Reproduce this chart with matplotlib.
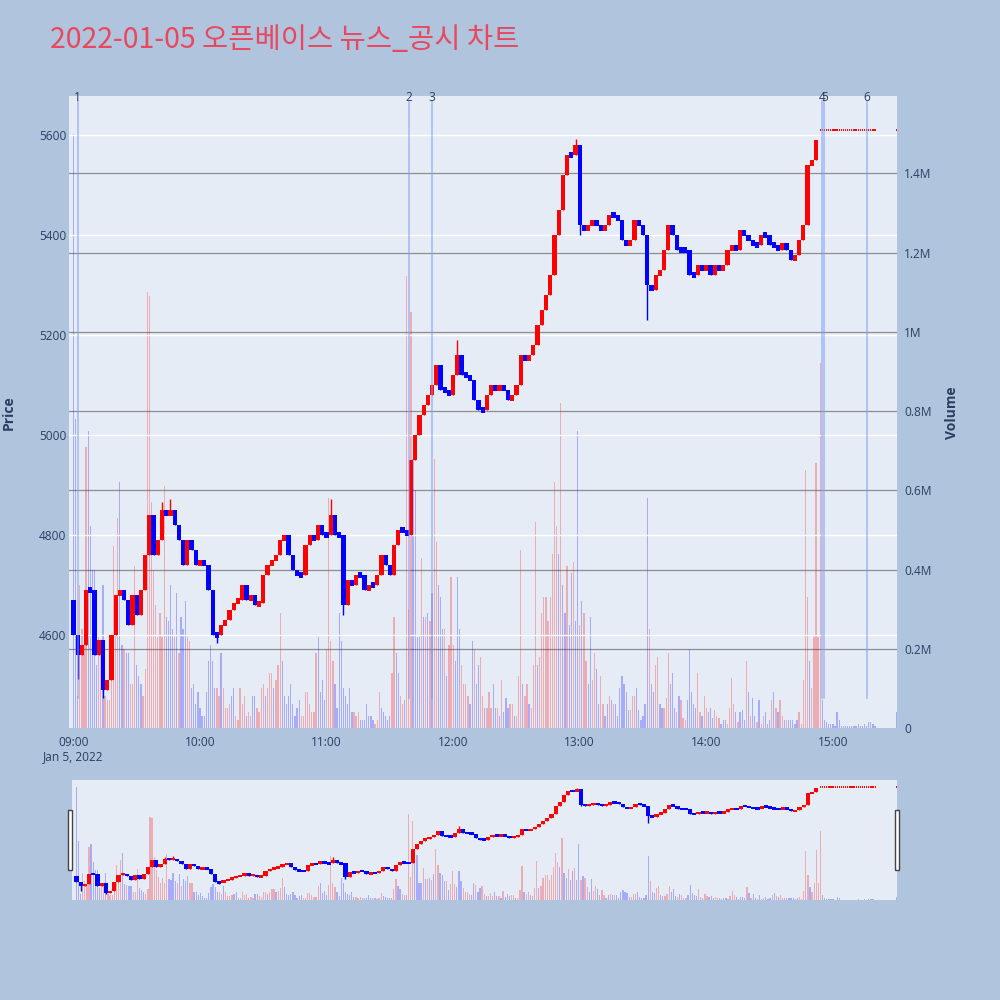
"""Intraday candle + volume chart with news markers and a range slider."""
import matplotlib
matplotlib.use("Agg")
import matplotlib.pyplot as plt
from matplotlib.patches import Rectangle

TITLE = "2022-01-05 오픈베이스 뉴스_공시 차트"

# 2-minute candles, minutes after 09:00
price_open0 = 4670
price_close = [
    4600, 4560, 4580, 4690, 4690, 4560, 4590, 4490, 4510, 4600,
    4680, 4690, 4670, 4620, 4680, 4640, 4690, 4760, 4840, 4760,
    4790, 4850, 4840, 4850, 4820, 4790, 4740, 4790, 4770, 4740,
    4750, 4740, 4690, 4600, 4600, 4620, 4630, 4650, 4665, 4670,
    4700, 4670, 4680, 4660, 4665, 4720, 4740, 4750, 4760, 4790,
    4800, 4760, 4730, 4720, 4720, 4780, 4800, 4790, 4820, 4800,
    4800, 4840, 4800, 4800, 4660, 4710, 4700, 4720, 4720, 4690,
    4700, 4700, 4720, 4760, 4740, 4720, 4780, 4810, 4810, 4800,
    4950, 5000, 5040, 5060, 5080, 5100, 5140, 5090, 5090, 5080,
    5120, 5160, 5120, 5120, 5110, 5070, 5050, 5050, 5080, 5100,
    5090, 5100, 5090, 5070, 5080, 5100, 5160, 5150, 5160, 5180,
    5220, 5250, 5280, 5320, 5400, 5450, 5520, 5560, 5560, 5580,
    5420, 5410, 5420, 5430, 5420, 5410, 5420, 5440, 5440, 5430,
    5390, 5380, 5390, 5430, 5420, 5400, 5300, 5290, 5320, 5330,
    5370, 5420, 5400, 5370, 5370, 5370, 5320, 5320, 5340, 5330,
    5340, 5320, 5340, 5330, 5340, 5370, 5380, 5370, 5410, 5400,
    5390, 5380, 5380, 5400, 5400, 5380, 5380, 5370, 5385, 5370,
    5350, 5360, 5390, 5420, 5540, 5550, 5590,
]
price_t = list(range(0, 2 * len(price_close), 2))
wick_high = {42: 4866, 46: 4873, 122: 4872, 182: 5190, 238: 5592}
wick_low = {2: 4512, 14: 4474, 68: 4585, 128: 4640, 240: 5400, 272: 5230}

# prints with no range after the last move
flat_t = list(range(354, 381)) + [390]
flat_price = 5610

# volume per minute (millions), R = up bar, B = down bar
vol_m = [
    1.50, 0.78, 0.08, 0.36, 0.25, 0.21, 0.71, 0.75, 0.51, 0.40,
    0.40, 0.16, 0.23, 0.21, 0.36, 0.08, 0.07, 0.07, 0.23, 0.46,
    0.30, 0.53, 0.62, 0.21, 0.20, 0.19, 0.19, 0.11, 0.11, 0.41,
    0.16, 0.13, 0.11, 0.08, 0.15, 1.10, 1.09, 0.57, 0.40, 0.31,
    0.23, 0.29, 0.23, 0.61, 0.28, 0.27, 0.36, 0.25, 0.23, 0.34,
    0.19, 0.28, 0.25, 0.32, 0.23, 0.22, 0.10, 0.11, 0.06, 0.09,
    0.05, 0.03, 0.03, 0.09, 0.17, 0.21, 0.17, 0.10, 0.10, 0.08,
    0.19, 0.10, 0.05, 0.05, 0.06, 0.08, 0.10, 0.03, 0.02, 0.10,
    0.06, 0.08, 0.03, 0.04, 0.03, 0.08, 0.08, 0.05, 0.04, 0.10,
    0.11, 0.08, 0.10, 0.14, 0.14, 0.10, 0.12, 0.16, 0.29, 0.17,
    0.08, 0.06, 0.08, 0.11, 0.06, 0.03, 0.05, 0.07, 0.03, 0.03,
    0.09, 0.09, 0.06, 0.04, 0.04, 0.19, 0.23, 0.09, 0.12, 0.07,
    0.20, 0.58, 0.22, 0.17, 0.11, 0.05, 0.29, 0.22, 0.10, 0.08,
    0.06, 0.10, 0.04, 0.04, 0.03, 0.04, 0.02, 0.02, 0.02, 0.06,
    0.03, 0.03, 0.02, 0.01, 0.02, 0.09, 0.05, 0.04, 0.03, 0.02,
    0.03, 0.14, 0.28, 0.19, 0.14, 0.08, 0.06, 0.07, 1.14, 0.30,
    1.05, 0.68, 0.60, 0.23, 0.23, 0.43, 0.28, 0.28, 0.29, 0.27,
    0.34, 0.68, 0.47, 0.36, 0.33, 0.25, 0.25, 0.13, 0.21, 0.38,
    0.21, 0.17, 0.38, 0.25, 0.16, 0.11, 0.11, 0.08, 0.06, 0.22,
    0.20, 0.11, 0.16, 0.18, 0.08, 0.05, 0.05, 0.09, 0.05, 0.11,
    0.05, 0.05, 0.03, 0.12, 0.04, 0.075, 0.05, 0.06, 0.06, 0.03,
    0.03, 0.13, 0.45, 0.11, 0.08, 0.11, 0.06, 0.05, 0.16, 0.52,
    0.16, 0.18, 0.29, 0.33, 0.33, 0.27, 0.33, 0.44, 0.62, 0.51,
    0.44, 0.82, 0.36, 0.29, 0.41, 0.26, 0.39, 0.42, 0.27, 0.75,
    0.26, 0.32, 0.29, 0.17, 0.11, 0.28, 0.12, 0.19, 0.15, 0.06,
    0.13, 0.06, 0.03, 0.06, 0.08, 0.07, 0.06, 0.06, 0.03, 0.10,
    0.13, 0.11, 0.09, 0.045, 0.045, 0.08, 0.08, 0.10, 0.045, 0.02,
    0.03, 0.06, 0.58, 0.25, 0.11, 0.09, 0.16, 0.18, 0.06, 0.05,
    0.05, 0.075, 0.19, 0.11, 0.14, 0.05, 0.04, 0.08, 0.07, 0.025,
    0.02, 0.07, 0.20, 0.09, 0.06, 0.05, 0.14, 0.04, 0.03, 0.08,
    0.05, 0.04, 0.05, 0.025, 0.045, 0.03, 0.025, 0.01, 0.02, 0.02,
    0.01, 0.05, 0.125, 0.06, 0.04, 0.015, 0.04, 0.045, 0.02, 0.17,
    0.09, 0.03, 0.075, 0.03, 0.015, 0.07, 0.01, 0.03, 0.04, 0.01,
    0.02, 0.07, 0.09, 0.05, 0.04, 0.07, 0.03, 0.02, 0.02, 0.02,
    0.02, 0.02, 0.01, 0.02, 0.04, 0.01, 0.12, 0.65, 0.33, 0.17,
    0.10, 0.23, 0.67, 0.23, 0.92, 0.07, 0.02, 0.015, 0.01, 0.01,
    0.01, 0.005, 0.04, 0.02, 0.005, 0.005, 0.005, 0.005, 0.005, 0.005,
    0.005, 0.005, 0.01, 0.005, 0.005, 0.01, 0.005, 0.015, 0.015, 0.01,
    0.005, 0, 0, 0, 0, 0, 0, 0, 0, 0,
    0.04,
]
vol_dir = (
    "BBBRRRRBBB" "BBRRBRRRRR" "RRBBRBBRRR" "BBBRRRRRRR" "RRRRBBBBRB"
    "RBBBRRBBBB" "BBBBBBBBRR" "BRRRRBBRRR" "RRBRRBBRRR" "RBRRRBRRRB"
    "BBBBBBBBRR" "RRRRRRBBBB" "RRRRBBBBBB" "BBBRRRBBBB" "BBBRRRBBBB"
    "BRRBBRRBRR" "RBBBBRBRBR" "BRRBBBRBRR" "RBBBRRRRBB" "RBBRRBRRRB"
    "BRBRBBBRRB" "RRRBRRBRRR" "BRRRRRRRRR" "BRBBRBBRBB" "RBRRBBRRBB"
    "RRBBRBRBBB" "BBBBRRRBBB" "BBBRBBRRBB" "RRRBBBRBRR" "RBBBBBRRBR"
    "RBBBRRRBBB" "RRRRBRBBBR" "BRBBRBRRBB" "BRBRBRRBRB" "BBBBRRRRRB"
    "RRRRRBBBBB" "BBBBBBBBBB" "BBBBBBBBBB" "BBBBBBBBBB" "B"
)
vol_t = list(range(len(vol_m)))

news_t = [2, 159, 170, 355, 356, 376]
news_lbl = ["1", "2", "3", "4", "5", "6"]

hour_ticks = [0, 60, 120, 180, 240, 300, 360]
hour_lbls = ["09:00", "10:00", "11:00", "12:00", "13:00", "14:00", "15:00"]
price_ticks = [4600, 4800, 5000, 5200, 5400, 5600]
vol_ticks = [0, 0.2, 0.4, 0.6, 0.8, 1.0, 1.2, 1.4]
vol_lbls = ["0", "0.2M", "0.4M", "0.6M", "0.8M", "1M", "1.2M", "1.4M"]

BG, PLOT_BG, TXT = "#b0c4de", "#e5ecf6", "#2a3f5f"
RED, BLUE = "#ff0000", "#0000ff"
XLIM, PLIM, VLIM = (-2.1, 390.4), (4414, 5679), (0, 1.595)

plt.rcParams["font.family"] = ["Open Sans", "DejaVu Sans"]


def draw(ap, av, body_w=2.0, min_h=12):
    opens = [price_open0] + price_close[:-1]
    for t, o, c in zip(price_t, opens, price_close):
        col = RED if c > o else BLUE
        hi = max(wick_high.get(t, c), o, c)
        lo = min(wick_low.get(t, c), o, c)
        ap.vlines(t, lo, hi, color=col, lw=1, zorder=3)
        h = max(abs(c - o), min_h)
        ap.bar(t, h, bottom=min(o, c) - (h - abs(c - o)) / 2, width=body_w,
               color=col, linewidth=0, zorder=3)
    ap.hlines([flat_price] * len(flat_t), [t - 0.3 for t in flat_t],
              [t + 0.3 for t in flat_t], color=RED, lw=1.4, zorder=3)
    cols = [RED if d == "R" else BLUE for d in vol_dir]
    av.bar(vol_t, vol_m, width=0.6, color=cols, alpha=0.27, linewidth=0, zorder=2)
    ap.set_xlim(*XLIM); ap.set_ylim(*PLIM); av.set_ylim(*VLIM)


def make_pair(rect):
    av = fig.add_axes(rect)
    ap = fig.add_axes(rect, sharex=av)
    av.set_facecolor(PLOT_BG)
    ap.patch.set_visible(False)
    for a in (av, ap):
        for s in a.spines.values():
            s.set_visible(False)
    return ap, av


fig = plt.figure(figsize=(10, 10), dpi=100)
fig.patch.set_facecolor(BG)

# main panel
ap, av = make_pair([0.069, 0.272, 0.828, 0.632])
draw(ap, av)
for v in vol_ticks[1:]:
    av.axhline(v, color="#8e8e8e", lw=0.9, zorder=1)
ap.set_yticks(price_ticks)
ap.grid(axis="y", color="white", lw=1, zorder=0)
ap.set_axisbelow(True)
av.yaxis.tick_right()
av.set_yticks(vol_ticks, vol_lbls)
ap.set_xticks(hour_ticks, hour_lbls)
av.tick_params(axis="x", bottom=False, labelbottom=False)
ap.tick_params(axis="x", length=0, pad=6, labelsize=8.6, labelcolor=TXT)
ap.tick_params(axis="y", length=0, pad=2, labelsize=8.6, labelcolor=TXT)
av.tick_params(axis="y", length=0, pad=5, labelsize=8.6, labelcolor=TXT)

for t, lbl in zip(news_t, news_lbl):
    ap.axvline(t, ymin=0.047, ymax=0.992, color="#7f9cf5", alpha=0.6, lw=1.2, zorder=4)
    ap.text(t, 0.998, lbl, transform=ap.get_xaxis_transform(), ha="center",
            va="center", fontsize=8.6, color=TXT, zorder=5)

# range slider
sp, sv = make_pair([0.072, 0.100, 0.825, 0.120])
draw(sp, sv, min_h=25)
for a in (sp, sv):
    a.set_xticks([]); a.set_yticks([])
for hx in (0.068, 0.895):
    fig.patches.append(Rectangle((hx, 0.130), 0.004, 0.060, transform=fig.transFigure,
                                 facecolor="white", edgecolor="#444444", lw=1))

fig.text(0.05, 0.96, TITLE, color="#e8485f", fontsize=20.5, va="center",
         family=["Noto Sans CJK KR", "DejaVu Sans"])
fig.text(0.073, 0.243, "Jan 5, 2022", ha="center", va="center", fontsize=8.6, color=TXT)
fig.text(0.009, 0.587, "Price", rotation=90, ha="center", va="center",
         fontsize=10, fontweight="bold", color=TXT)
fig.text(0.952, 0.587, "Volume", rotation=90, ha="center", va="center",
         fontsize=10, fontweight="bold", color=TXT)

fig.savefig("out.png", dpi=100, facecolor=BG)
